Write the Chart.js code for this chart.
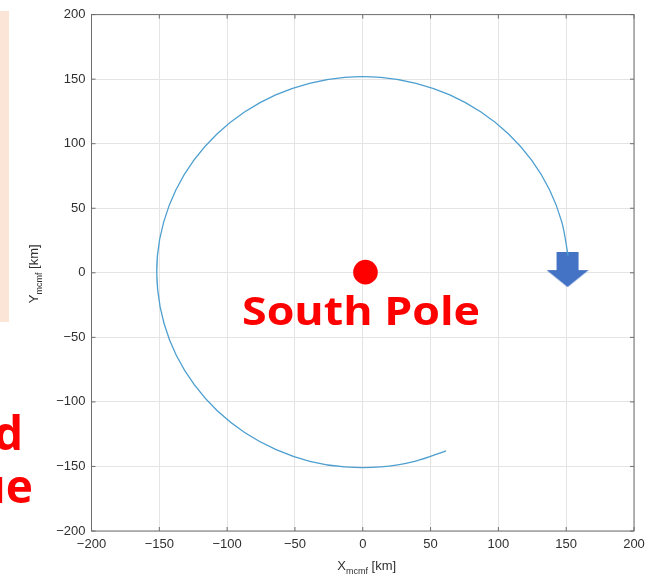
<!DOCTYPE html>
<html lang="en">
<head>
    <meta charset="UTF-8">
    <title>Trajectory around the South Pole</title>
    <script src="https://cdn.jsdelivr.net/npm/chart.js"></script>
    <style>
        body {
            margin: 0;
            padding: 0;
            background: #fff;
        }

        .wrap {
            position: relative;
            width: 654px;
            height: 577px;
        }
    </style>
</head>
<body>
    <div class="wrap">
        <canvas id="orbitChart"></canvas>
    </div>

    <script>
        // ground track (km)
        const trackX = [151.4, 146.8, 137.8, 124.5, 107.5, 87.2, 64.2, 39.3, 13.3, -13.3, -39.3, -64.2, -87.2, -107.5, -124.5, -137.8, -146.8, -151.4,
                        -151.2, -146.5, -137.4, -124.1, -107.1, -86.8, -63.9, -39.1, -13.2, 13.2, 39.1, 61.4];
        const trackY = [13.3, 39.3, 64.2, 87.2, 107.5, 124.5, 137.8, 146.8, 151.4, 151.4, 146.8, 137.8, 124.5, 107.5, 87.2, 64.2, 39.3, 13.3,
                        -13.2, -39.3, -64.1, -86.9, -107.1, -123.9, -137.0, -146.0, -150.4, -150.4, -145.8, -137.9];

        const poleAt = [2, 0.5];
        const arrowAt = [151, 2.5];

        const axisMin = -200;
        const axisMax = 200;
        const axisStep = 50;

        const xTitle = ['X', 'mcmf', ' [km]'];
        const yTitle = ['Y', 'mcmf', ' [km]'];
        const poleLabel = 'South Pole';
        const sideWords = ['d', 'ue'];

        const frameColor = '#6e6e6e';
        const tickFont = '13px "Liberation Sans", Arial, sans-serif';

        // blue arrow used as point style
        const arrowImg = document.createElement('canvas');
        arrowImg.width = 42;
        arrowImg.height = 35;
        (function () {
            const c = arrowImg.getContext('2d');
            c.fillStyle = '#4472c4';
            c.beginPath();
            c.moveTo(10, 0);
            c.lineTo(32, 0);
            c.lineTo(32, 18);
            c.lineTo(42, 18);
            c.lineTo(21, 35);
            c.lineTo(0, 18);
            c.lineTo(10, 18);
            c.closePath();
            c.fill();
        })();

        function minus(v) {
            return String(v).replace('-', '\u2212');
        }

        function drawTitle(ctx, parts) {
            ctx.font = tickFont;
            const w0 = ctx.measureText(parts[0]).width;
            const w2 = ctx.measureText(parts[2]).width;
            ctx.font = '9px "Liberation Sans", Arial, sans-serif';
            const w1 = ctx.measureText(parts[1]).width;
            let x = -(w0 + w1 + w2) / 2;
            ctx.textAlign = 'left';
            ctx.textBaseline = 'alphabetic';
            ctx.font = tickFont;
            ctx.fillText(parts[0], x, 0);
            x += w0;
            ctx.font = '9px "Liberation Sans", Arial, sans-serif';
            ctx.fillText(parts[1], x, 4);
            x += w1;
            ctx.font = tickFont;
            ctx.fillText(parts[2], x, 0);
        }

        // draw text stretched sideways to a target width
        function wideText(ctx, text, x, y, width) {
            const w = ctx.measureText(text).width;
            ctx.save();
            ctx.translate(x, y);
            ctx.scale(width / w, 1);
            ctx.fillText(text, 0, 0);
            ctx.restore();
        }

        const extras = {
            id: 'extras',
            beforeDraw(chart) {
                const ctx = chart.ctx;
                ctx.save();
                ctx.fillStyle = '#fbe5d6';
                ctx.fillRect(0, 11, 9, 311);
                ctx.restore();
            },
            afterDraw(chart) {
                const ctx = chart.ctx;
                const a = chart.chartArea;
                const xs = chart.scales.x;
                const ys = chart.scales.y;
                ctx.save();

                // box and inward ticks on all sides
                ctx.strokeStyle = frameColor;
                ctx.lineWidth = 1;
                ctx.strokeRect(a.left, a.top, a.right - a.left, a.bottom - a.top);
                ctx.beginPath();
                for (let v = axisMin; v <= axisMax; v += axisStep) {
                    const px = xs.getPixelForValue(v);
                    ctx.moveTo(px, a.bottom); ctx.lineTo(px, a.bottom - 4);
                    ctx.moveTo(px, a.top); ctx.lineTo(px, a.top + 4);
                    const py = ys.getPixelForValue(v);
                    ctx.moveTo(a.left, py); ctx.lineTo(a.left + 4, py);
                    ctx.moveTo(a.right, py); ctx.lineTo(a.right - 4, py);
                }
                ctx.stroke();

                // axis titles
                ctx.fillStyle = '#303030';
                ctx.save();
                ctx.translate((a.left + a.right) / 2 + 4, 570);
                drawTitle(ctx, xTitle);
                ctx.restore();
                ctx.save();
                ctx.translate(37.5, (a.top + a.bottom) / 2 + 1);
                ctx.rotate(-Math.PI / 2);
                drawTitle(ctx, yTitle);
                ctx.restore();

                // red annotations
                ctx.fillStyle = '#ff0000';
                ctx.textBaseline = 'alphabetic';
                ctx.textAlign = 'left';
                ctx.font = 'bold 40px "Open Sans", sans-serif';
                wideText(ctx, poleLabel, 242, 325, 238);
                ctx.font = 'bold 46px "Open Sans", sans-serif';
                ctx.textAlign = 'right';
                ctx.fillText(sideWords[0], 23, 450);
                ctx.fillText(sideWords[1], 33, 503);
                ctx.restore();
            }
        };

        const ctx = document.getElementById('orbitChart').getContext('2d');

        new Chart(ctx, {
            type: 'scatter',
            data: {
                datasets: [{
                    data: trackX.map((x, i) => ({ x: x, y: trackY[i] })),
                    showLine: true,
                    borderColor: '#4d9fd0',
                    borderWidth: 1.3,
                    tension: 0.33,
                    pointRadius: 0,
                    fill: false
                }, {
                    data: [{ x: poleAt[0], y: poleAt[1] }],
                    pointRadius: 12.3,
                    backgroundColor: '#ff0000',
                    borderWidth: 0
                }, {
                    data: [{ x: arrowAt[0], y: arrowAt[1] }],
                    pointStyle: arrowImg,
                    pointRadius: 20
                }]
            },
            options: {
                responsive: true,
                maintainAspectRatio: false,
                animation: false,
                events: [],
                layout: { autoPadding: false, padding: { top: 14.6, right: 20, left: 0, bottom: 0 } },
                plugins: {
                    legend: { display: false },
                    tooltip: { enabled: false }
                },
                scales: {
                    x: {
                        type: 'linear',
                        min: axisMin,
                        max: axisMax,
                        afterFit: s => { s.height = 46; },
                        border: { display: false },
                        grid: { color: '#e4e4e4', drawTicks: false },
                        ticks: {
                            stepSize: axisStep,
                            padding: 6,
                            color: '#303030',
                            maxRotation: 0,
                            font: { family: '"Liberation Sans", Arial, sans-serif', size: 13 },
                            callback: v => minus(v)
                        }
                    },
                    y: {
                        type: 'linear',
                        min: axisMin,
                        max: axisMax,
                        afterFit: s => { s.width = 91.5; },
                        border: { display: false },
                        grid: { color: '#e4e4e4', drawTicks: false },
                        ticks: {
                            stepSize: axisStep,
                            padding: 6,
                            color: '#303030',
                            font: { family: '"Liberation Sans", Arial, sans-serif', size: 13 },
                            callback: v => minus(v)
                        }
                    }
                }
            },
            plugins: [extras]
        });
    </script>
</body>
</html>
